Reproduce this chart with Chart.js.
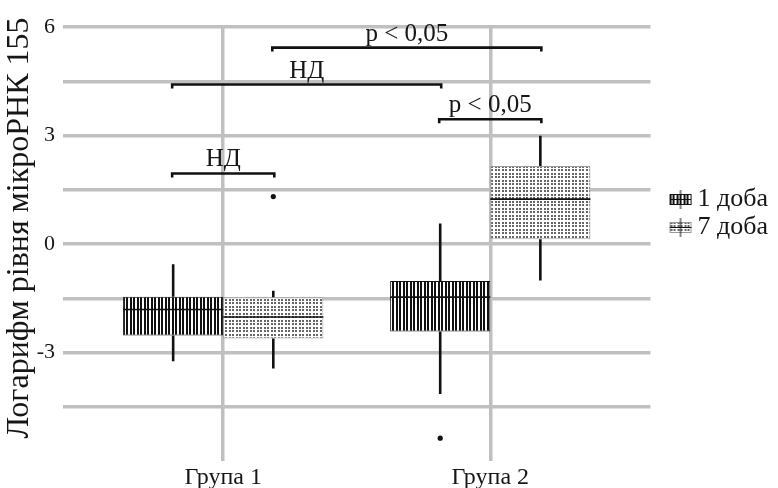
<!DOCTYPE html>
<html>
<head>
<meta charset="utf-8">
<script src="https://cdn.jsdelivr.net/npm/chart.js@4.4.1/dist/chart.umd.min.js"></script>
<style>
html, body { margin: 0; padding: 0; background: #fff; }
canvas { display: block; }
</style>
</head>
<body>
<canvas id="c" width="778" height="488"></canvas>
<script>
// ---------- data ----------
const groups = ['Група 1', 'Група 2'];
const groupPos = [1, 2];
const seriesNames = ['1 доба', '7 доба'];

const day1Min = [-3.24, -4.15];
const day1Q1 = [-2.53, -2.42];
const day1Median = [-1.81, -1.47];
const day1Q3 = [-1.46, -1.02];
const day1Max = [-0.56, 0.57];
const day1Outliers = [[], [-5.37]];

const day7Min = [-3.44, -1.01];
const day7Q1 = [-2.61, 0.13];
const day7Median = [-2.02, 1.24];
const day7Q3 = [-1.47, 2.16];
const day7Max = [-1.29, 2.99];
const day7Outliers = [[1.31], []];

const yTickLabels = [6, 3, 0, -3];
const yTitle = 'Логарифм рівня мікроРНК 155';

// significance brackets: [seriesIndex, groupIndex] of the two ends
const bracketLabels = ['НД', 'НД', 'p < 0,05', 'p < 0,05'];
const bracketY = [1.95, 4.41, 5.43, 3.45];
const bracketFrom = [[0, 0], [0, 0], [1, 0], [0, 1]];
const bracketTo = [[1, 0], [0, 1], [1, 1], [1, 1]];

// ---------- patterns ----------
function makeStripeTile() {
  const c = document.createElement('canvas');
  c.width = 7; c.height = 4;
  const g = c.getContext('2d');
  g.fillStyle = '#fff'; g.fillRect(0, 0, 7, 4);
  g.fillStyle = '#111';
  g.fillRect(0, 0, 2, 4);
  g.fillRect(4, 0, 2, 4);
  return c;
}
function makeDotTile() {
  const c = document.createElement('canvas');
  c.width = 7; c.height = 7;
  const g = c.getContext('2d');
  g.fillStyle = '#fff'; g.fillRect(0, 0, 7, 7);
  g.fillStyle = '#666';
  [1, 5].forEach(px => [1, 5].forEach(py => g.fillRect(px, py, 2, 2)));
  return c;
}
const tmpCtx = document.createElement('canvas').getContext('2d');
const stripePattern = tmpCtx.createPattern(makeStripeTile(), 'repeat');
const dotPattern = tmpCtx.createPattern(makeDotTile(), 'repeat');

function makeLegendIcon(pattern, border) {
  const c = document.createElement('canvas');
  c.width = 48; c.height = 20;
  const g = c.getContext('2d');
  g.fillStyle = pattern;
  g.fillRect(25, 5, 22, 11);
  g.strokeStyle = border; g.lineWidth = 1;
  g.strokeRect(25.5, 5.5, 21, 10);
  g.strokeStyle = '#111';
  g.beginPath();
  g.moveTo(36, 1); g.lineTo(36, 20);
  g.moveTo(25, 10.5); g.lineTo(47, 10.5);
  g.stroke();
  return c;
}
const legendIcons = [makeLegendIcon(stripePattern, '#111'), makeLegendIcon(dotPattern, '#999')];

const boxData = (q1, q3) => groupPos.map((x, i) => ({ x: x, y: [q1[i], q3[i]] }));

const seriesStats = [
  { min: day1Min, q1: day1Q1, med: day1Median, q3: day1Q3, max: day1Max, out: day1Outliers },
  { min: day7Min, q1: day7Q1, med: day7Median, q3: day7Q3, max: day7Max, out: day7Outliers }
];

const FONT = "'Liberation Serif', 'Times New Roman', serif";
const TEXT = '#161616';

// ---------- plugin: whiskers, medians, outliers, brackets, y title ----------
const boxPartsPlugin = {
  id: 'boxParts',
  afterDatasetsDraw(chart) {
    const ctx = chart.ctx;
    const ys = chart.scales.y;
    const barAt = (s, g) => chart.getDatasetMeta(s).data[g].getProps(['x', 'width'], true);
    ctx.save();
    seriesStats.forEach((st, si) => {
      chart.getDatasetMeta(si).data.forEach((bar, gi) => {
        const { x, width } = bar.getProps(['x', 'width'], true);
        ctx.strokeStyle = '#111';
        ctx.lineWidth = 2.6;
        ctx.lineCap = 'butt';
        ctx.beginPath();
        ctx.moveTo(x, ys.getPixelForValue(st.q3[gi]));
        ctx.lineTo(x, ys.getPixelForValue(st.max[gi]));
        ctx.moveTo(x, ys.getPixelForValue(st.q1[gi]));
        ctx.lineTo(x, ys.getPixelForValue(st.min[gi]));
        ctx.stroke();
        const ym = ys.getPixelForValue(st.med[gi]);
        ctx.lineWidth = 1.6;
        ctx.beginPath();
        ctx.moveTo(x - width / 2, ym);
        ctx.lineTo(x + width / 2, ym);
        ctx.stroke();
        ctx.fillStyle = '#111';
        st.out[gi].forEach(v => {
          ctx.beginPath();
          ctx.arc(x, ys.getPixelForValue(v), 2.6, 0, Math.PI * 2);
          ctx.fill();
        });
      });
    });
    // brackets
    ctx.font = '25px ' + FONT;
    ctx.textAlign = 'center';
    ctx.textBaseline = 'alphabetic';
    bracketLabels.forEach((lab, i) => {
      const a = barAt(bracketFrom[i][0], bracketFrom[i][1]).x;
      const b = barAt(bracketTo[i][0], bracketTo[i][1]).x;
      const yy = ys.getPixelForValue(bracketY[i]);
      ctx.strokeStyle = '#111';
      ctx.lineWidth = 2.6;
      ctx.beginPath();
      ctx.moveTo(a - 1, yy + 4);
      ctx.lineTo(a - 1, yy);
      ctx.lineTo(b + 1, yy);
      ctx.lineTo(b + 1, yy + 4);
      ctx.stroke();
      ctx.fillStyle = TEXT;
      ctx.fillText(lab, (a + b) / 2, yy - 7);
    });
    // y-axis title
    ctx.font = '32px ' + FONT;
    ctx.fillStyle = TEXT;
    ctx.textAlign = 'center';
    ctx.textBaseline = 'middle';
    ctx.translate(ys.left + 20, (ys.top + ys.bottom) / 2 - 16);
    ctx.rotate(-Math.PI / 2);
    ctx.fillText(yTitle, 0, 0);
    ctx.restore();
  }
};

new Chart(document.getElementById('c'), {
  type: 'bar',
  data: {
    datasets: [
      {
        label: seriesNames[0],
        data: boxData(day1Q1, day1Q3),
        backgroundColor: stripePattern,
        borderColor: '#111',
        borderWidth: 1,
        borderSkipped: false,
        categoryPercentage: 0.75,
        barPercentage: 1.0
      },
      {
        label: seriesNames[1],
        data: boxData(day7Q1, day7Q3),
        backgroundColor: dotPattern,
        borderColor: '#9a9a9a',
        borderWidth: 1,
        borderSkipped: false,
        categoryPercentage: 0.75,
        barPercentage: 1.0
      }
    ]
  },
  options: {
    responsive: false,
    animation: false,
    layout: { padding: { top: 27, right: 0, left: 0, bottom: 0 } },
    scales: {
      x: {
        type: 'linear',
        min: 0.4,
        max: 2.6,
        offset: false,
        bounds: 'data',
        afterBuildTicks: s => { s.ticks = groupPos.map(v => ({ value: v })); },
        afterFit: s => { s.height = 27; },
        ticks: {
          callback: v => { const i = groupPos.indexOf(v); return i >= 0 ? groups[i] : ''; },
          font: { family: FONT, size: 24 },
          color: TEXT,
          padding: 2,
          autoSkip: false,
          maxRotation: 0
        },
        grid: { color: '#c0c0c0', lineWidth: 3.5, drawTicks: false, offset: false },
        border: { display: false }
      },
      y: {
        min: -6,
        max: 6,
        afterFit: s => { s.width = 63; },
        ticks: {
          stepSize: 1.5,
          callback: v => yTickLabels.includes(v) ? String(v) : '',
          font: { family: FONT, size: 22 },
          color: TEXT,
          padding: 8,
          autoSkip: false
        },
        grid: {
          color: c => (c.tick && c.tick.value === -6) ? 'rgba(0,0,0,0)' : '#c0c0c0',
          lineWidth: 3.5,
          drawTicks: false
        },
        border: { display: false },
        title: { display: false }
      }
    },
    plugins: {
      tooltip: { enabled: false },
      legend: {
        position: 'right',
        align: 'start',
        title: { display: true, text: '', font: { size: 10 }, padding: { top: 145, bottom: 0 } },
        labels: {
          usePointStyle: true,
          pointStyleWidth: 32,
          padding: 2,
          font: { family: FONT, size: 26 },
          color: TEXT,
          generateLabels: chart => seriesNames.map((n, i) => ({
            text: n,
            datasetIndex: i,
            pointStyle: legendIcons[i],
            fillStyle: '#fff',
            strokeStyle: '#fff',
            fontColor: TEXT,
            lineWidth: 0,
            hidden: false
          }))
        }
      }
    }
  },
  plugins: [boxPartsPlugin]
});
</script>
</body>
</html>
